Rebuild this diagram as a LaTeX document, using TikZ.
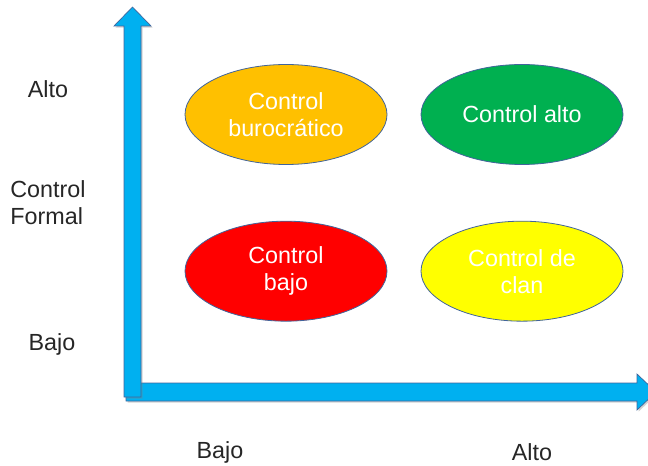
\documentclass[tikz,border=0pt]{standalone}
\usepackage{fontspec}
\setmainfont{Liberation Sans}
\usetikzlibrary{shapes.geometric,positioning,shadows}

\definecolor{axisblue}{RGB}{0,176,240}
\definecolor{rimblue}{RGB}{65,100,155}
\definecolor{buroyellow}{RGB}{255,192,0}
\definecolor{altogreen}{RGB}{0,176,80}
\definecolor{bajored}{RGB}{255,0,0}
\definecolor{clanyellow}{RGB}{255,255,0}
\definecolor{labelgray}{RGB}{38,38,38}

\begin{document}
\begin{tikzpicture}[x=0.75pt,y=-0.75pt,on grid,node distance=117.5pt and 177pt,
	oval/.style={ellipse,draw=rimblue,line width=0.6pt,minimum width=151.5pt,minimum height=75pt,
		inner sep=0pt,align=center,text=white,font=\fontsize{17.5}{20.25}\selectfont},
	axis/.style={fill=axisblue,draw=rimblue,line width=0.5pt,
		drop shadow={shadow xshift=1.2pt,shadow yshift=-1.2pt,opacity=0.35}},
	tag/.style={text=labelgray,inner sep=0pt,align=left,font=\fontsize{17.5}{20.25}\selectfont}]

	\clip (0,0) rectangle (648,466);
	\useasboundingbox (0,0) rectangle (648,466);

	% axes
	\path[axis] (126,383) -- (637,383) -- (637,374) -- (656,392) -- (637,410) -- (637,401) -- (126,401) -- cycle;
	\path[axis] (124,397) -- (124,26) -- (114,26) -- (132.5,7) -- (151,26) -- (141,26) -- (141,384) -- (141,397) -- cycle;

	% quadrants
	\node[oval,fill=buroyellow] (buro) at (286,114.5) {Control\\burocrático};
	\node[oval,fill=altogreen] (alto) [right=of buro] {Control alto};
	\node[oval,fill=bajored] (bajo) [below=of buro] {Control\\bajo};
	\node[oval,fill=clanyellow] (clan) [right=of bajo] {Control de\\clan};

	% axis labels
	\node[tag] (yhigh) at (48,89) {Alto};
	\node[tag] (yname) at (48,203) {Control\\Formal};
	\node[tag] (ylow) at (52,344) {Bajo};
	\node[tag] (xlow) at (220,452) {Bajo};
	\node[tag] (xhigh) at (532,452) {Alto};

\end{tikzpicture}
\end{document}
